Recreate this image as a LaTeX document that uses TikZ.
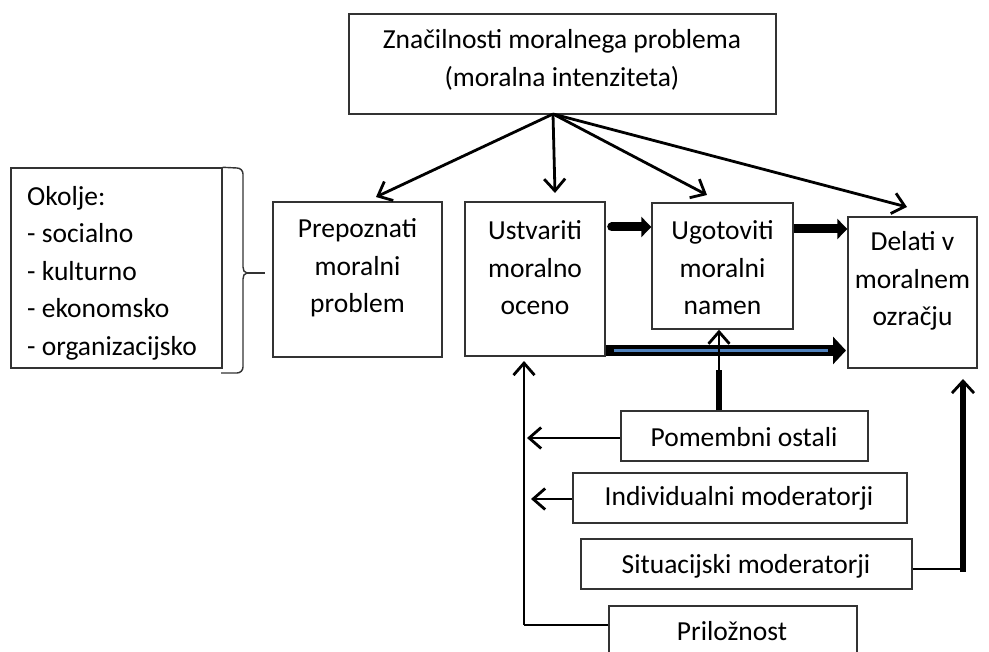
\documentclass[tikz,border=0pt]{standalone}
\usepackage{fontspec}
\setmainfont{Carlito}
\usetikzlibrary{arrows.meta}
\definecolor{boxline}{HTML}{333333}
\definecolor{officeblue}{HTML}{4F81BD}
\begin{document}
\begin{tikzpicture}[x=1pt,y=-1pt,
  boxnode/.style={draw=boxline, line width=1.4pt, inner sep=0pt},
  txt/.style={inner sep=0pt, align=center, font=\fontsize{27.5}{37.5}\selectfont},
  thin/.style={line width=2.8pt, -{Straight Barb[length=12pt,width=21pt,line width=2.8pt]}},
  fat/.style={line width=9pt, -{Triangle[length=10pt,width=20pt]}},
]
\clip (0,0) rectangle (989,652);
\fill[white] (0,0) rectangle (989,652);

% boxes
\node[boxnode, minimum width=427pt, minimum height=100pt] (top) at (562.5,64) {};
\node[txt] (toptxt) at (562,60) {Značilnosti moralnega problema\\(moralna intenziteta)};

\node[boxnode, minimum width=211pt, minimum height=200pt] (okolje) at (116.5,268) {};
\node[txt, anchor=west, align=left] (okoljetxt) at (27,273) {Okolje:\\- socialno\\- kulturno\\- ekonomsko\\- organizacijsko};

\node[boxnode, minimum width=169pt, minimum height=155pt] (prep) at (357.5,279.5) {};
\node[txt] (preptxt) at (357.5,268) {Prepoznati\\moralni\\problem};

\node[boxnode, minimum width=140pt, minimum height=154pt] (ustv) at (535,279) {};
\node[txt] (ustvtxt) at (535,268) {Ustvariti\\moralno\\oceno};

\node[boxnode, minimum width=141pt, minimum height=126pt] (ugot) at (722.5,266) {};
\node[txt] (ugottxt) at (722.5,268) {Ugotoviti\\moralni\\namen};

\node[boxnode, minimum width=129pt, minimum height=151pt] (delati) at (912.5,292.5) {};
\node[txt] (delatitxt) at (912.5,281) {Delati v\\moralnem\\ozračju};

\node[boxnode, minimum width=247pt, minimum height=50pt] (pom) at (744.5,436) {};
\node[txt] (pomtxt) at (744,437) {Pomembni ostali};

\node[boxnode, minimum width=334pt, minimum height=50pt] (ind) at (740,498) {};
\node[txt] (indtxt) at (739,498) {Individualni moderatorji};

\node[boxnode, minimum width=331pt, minimum height=50pt] (sit) at (746.5,564) {};
\node[txt] (sittxt) at (746,566) {Situacijski moderatorji};

\node[boxnode, minimum width=248pt, minimum height=54pt] (pri) at (733,633) {};
\node[txt] (pritxt) at (732,631) {Priložnost};

% brace next to Okolje
\coordinate (bracetip) at (247,273);
\coordinate (braceend) at (265,273);
\draw[line width=1.4pt, boxline] (okolje.north east) -- (237,168) to[out=0,in=90] (243,174) -- (243,267)
  to[out=-90,in=180] (bracetip) to[out=180,in=90] (243,279) -- (243,367) to[out=-90,in=0] (237,373) -- (221,373);
\draw[line width=1.4pt, boxline] (bracetip) -- (braceend);

% arrows from top box
\coordinate (src) at (553,114);
\coordinate (t1) at (376,197);
\coordinate (t2) at (555,193);
\coordinate (t3) at (707,195);
\coordinate (t4) at (907,207);
\draw[thin] (src) -- (t1);
\draw[thin] (src) -- (t2);
\draw[thin] (src) -- (t3);
\draw[thin] (src) -- (t4);

% thick arrows between steps
\draw[fat, line cap=round] (ustv.east |- 0,227) ++(6,0) coordinate (f1s) -- (ugot.west |- 0,227);
\draw[fat] (ugot.east |- 0,229) -- (delati.west |- 0,229);

% bottom double arrow
\coordinate (b1) at (605.5,350.5);
\coordinate (b2) at (846,350.5);
\draw[line width=11pt, -{Triangle[length=13pt,width=27pt]}] (b1) -- (b2);
\draw[line width=2.4pt, officeblue] (b1) ++(8,0) -- (828,350.5);

% Pomembni ostali -> Ugotoviti
\coordinate (pk) at (719,370);
\draw[line width=5.5pt] (pom.north -| 719,0) -- (pk);
\draw[thin] (pk) -- (ugot.south -| 719,0);

% left collector line
\coordinate (lc1) at (524,625);
\coordinate (lc2) at (524,361);
\draw[line width=2.5pt] (pri.west |- lc1) -- (lc1);
\draw[thin] (lc1) -- (lc2);
\draw[thin] (pom.west |- 0,438) -- (527,438);
\draw[thin] (ind.west |- 0,499) -- (531,499);

% Situacijski -> Delati
\coordinate (sc) at (963,569);
\draw[line width=1.4pt] (sit.east |- sc) -- (sc);
\draw[line width=5.5pt, -{Straight Barb[length=12pt,width=22pt,line width=2.8pt]}] (963,571.5) -- (963,379);
\end{tikzpicture}
\end{document}
